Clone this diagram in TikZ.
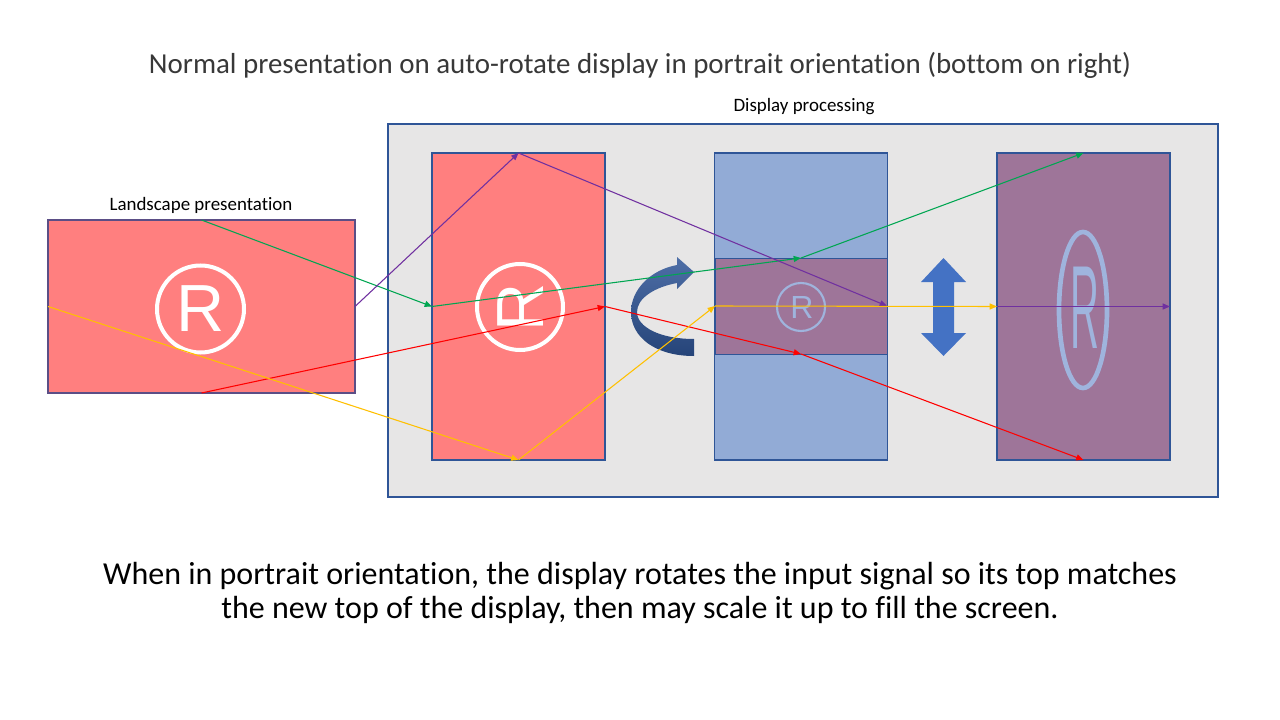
\documentclass[tikz,border=0pt]{standalone}
\usepackage{fontspec}
\setmainfont{Carlito}[Ligatures=NoCommon]
\newfontfamily\arialfont{Liberation Sans}
\usetikzlibrary{arrows.meta}
\definecolor{bggray}{HTML}{E7E6E6}
\definecolor{boxred}{HTML}{FF7F7F}
\definecolor{boxblue}{HTML}{92ABD6}
\definecolor{boxpurple}{HTML}{9E7599}
\definecolor{edgeblue}{HTML}{2F5597}
\definecolor{edgepurple}{HTML}{5B4E86}
\definecolor{symblue}{HTML}{9FB4DD}
\definecolor{lgreen}{HTML}{00A651}
\definecolor{lpurple}{HTML}{7030A0}
\definecolor{lred}{HTML}{FF0000}
\definecolor{lyellow}{HTML}{FFC000}
\definecolor{arrowdark}{HTML}{2F5597}
\definecolor{arrowmid}{HTML}{4472C4}
\tikzset{
  panel/.style={draw=edgeblue, line width=0.9pt, inner sep=0pt, outer sep=0pt},
  portrait/.style={panel, minimum width=129.75pt, minimum height=230.25pt},
  conn/.style={line width=0.8pt, -{Triangle[length=5.5pt,width=4.5pt]}},
  regR/.style={inner sep=0pt, outer sep=0pt, font=\arialfont}
}
\begin{document}
\begin{tikzpicture}[x=0.75pt,y=-0.75pt]
\useasboundingbox[fill=white] (0,0) rectangle (1280,720);

% texts
\node[inner sep=0pt, font=\fontsize{21.7}{26}\selectfont, text=black!78] (title) at (640,65.5) {Normal presentation on auto-rotate display in portrait orientation (bottom on right)};
\node[inner sep=0pt, font=\fontsize{14.2}{17}\selectfont] (dproc) at (804,106.5) {Display processing};
\node[inner sep=0pt, font=\fontsize{14.2}{17}\selectfont] (lproc) at (201,205) {Landscape presentation};
\node[inner sep=0pt, align=center, font=\fontsize{24}{25.5}\selectfont] (caption) at (640,593)
  {When in portrait orientation, the display rotates the input signal so its top matches\\the new top of the display, then may scale it up to fill the screen.};

% display processing frame
\node[panel, fill=bggray, minimum width=622.5pt, minimum height=279.75pt] (frame) at (803,310.5) {};

% landscape input
\node[panel, draw=edgepurple, fill=boxred, minimum width=230.25pt, minimum height=129.75pt] (land) at (201.5,306.5) {};
\draw[white, line width=3pt] (200.5,309) circle (43.5);
\node[regR, text=white, font=\arialfont\fontsize{50}{50}\selectfont] (landR) at (201,309) {R};

% rotated portrait (red)
\node[portrait, fill=boxred] (port) at (518.5,306.5) {};
\draw[white, line width=3pt] (520,307) circle (43);
\node[regR, text=white, rotate=90, font=\arialfont\fontsize{50}{50}\selectfont] (portR) at (521,307) {R};

% blue portrait with band
\node[portrait, fill=boxblue] (blue) at (801,306.5) {};
\node[panel, line width=0.6pt, fill=boxpurple, minimum width=129pt, minimum height=72pt] (band) at (801,306) {};
\draw[symblue, line width=1.6pt] (801,307) circle (24);
\node[regR, text=symblue, font=\arialfont\fontsize{24}{24}\selectfont] (bandR) at (802,307) {R};

% scaled portrait
\node[portrait, fill=boxpurple] (right) at (1083.5,306.5) {};
\draw[edgeblue, line width=2pt] (right.south west) -- (right.south east);
\draw[symblue, line width=3.5pt] (1083,310) ellipse (24 and 78);
\node[regR, text=symblue, xscale=1.25, yscale=3.7, font=\arialfont\fontsize{24}{24}\selectfont] (rightR) at (1085,308) {R};

% curved rotate arrow
\shade[top color=arrowdark!85!white, bottom color=arrowdark!80!black]
  (694,356) .. controls (655,356) and (631,337) .. (631,312)
  .. controls (631,290) and (650,270) .. (677,265)
  -- (677,257) -- (694,272) -- (677,289) -- (677,283)
  .. controls (655,287) and (637,298) .. (637,312)
  .. controls (637,327) and (660,339) .. (694,339) -- cycle;

% vertical double arrow
\fill[arrowmid] (943.5,258) -- (966,282) -- (954,282) -- (954,333) -- (966,333) -- (943.5,356)
  -- (921,333) -- (933,333) -- (933,282) -- (921,282) -- cycle;

% connectors
\draw[conn, lgreen] (land.north) -- (port.west);
\draw[conn, lgreen] (port.west) -- (band.north);
\draw[conn, lgreen] (band.north) -- (right.north);

\draw[conn, lpurple] (land.east) -- (port.north);
\draw[conn, lpurple] (port.north) -- (band.east);

\draw[conn, lred] (land.south) -- (port.east);
\draw[conn, lred] (port.east) -- (band.south);
\draw[conn, lred] (band.south) -- (right.south);

\draw[conn, lyellow] (land.west) -- (port.south);
\draw[conn, lyellow] (port.south) -- (band.west);
\draw[conn, lyellow] (band.west) -- (right.west);
\draw[conn, lpurple] (right.west) -- (right.east);
\end{tikzpicture}
\end{document}
